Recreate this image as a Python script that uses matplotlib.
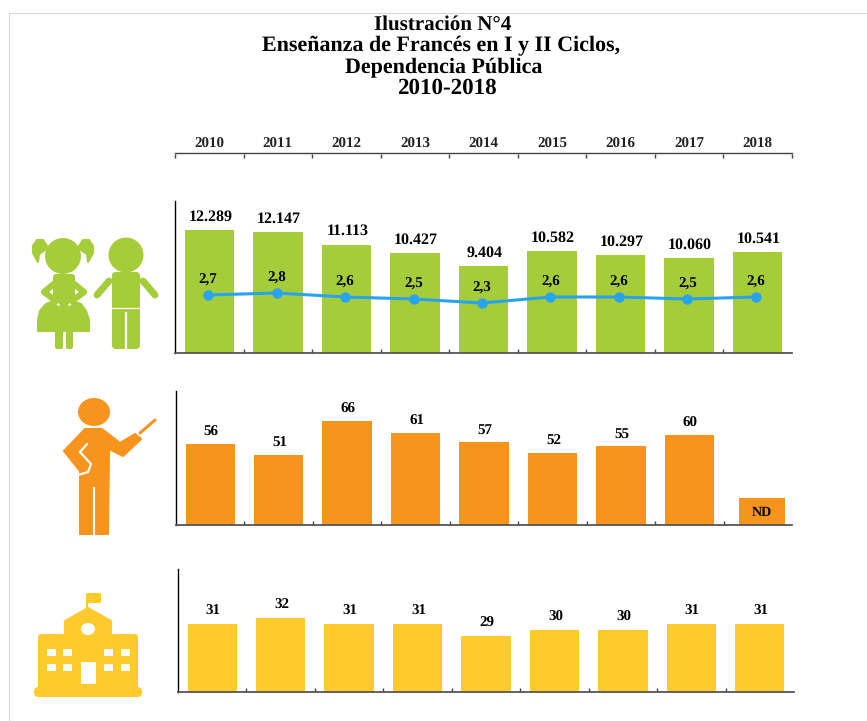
import matplotlib
matplotlib.use("Agg")
import matplotlib.pyplot as plt
from matplotlib.patches import Circle, Ellipse, Polygon, FancyBboxPatch, Rectangle
import numpy as np

plt.rcParams["font.family"] = ["Liberation Serif", "DejaVu Serif"]
plt.rcParams["font.weight"] = "bold"
plt.rcParams["text.hinting"] = "no_hinting"
plt.rcParams["text.hinting_factor"] = 1

years = ["2010", "2011", "2012", "2013", "2014", "2015", "2016", "2017", "2018"]
students = [12289, 12147, 11113, 10427, 9404, 10582, 10297, 10060, 10541]
student_labels = ["12.289", "12.147", "11.113", "10.427", "9.404", "10.582", "10.297", "10.060", "10.541"]
percent = [2.7, 2.8, 2.6, 2.5, 2.3, 2.6, 2.6, 2.5, 2.6]
percent_labels = ["2,7", "2,8", "2,6", "2,5", "2,3", "2,6", "2,6", "2,5", "2,6"]
teachers = [56, 51, 66, 61, 57, 52, 55, 60]
teacher_labels = ["56", "51", "66", "61", "57", "52", "55", "60"]
nd_placeholder = 32
schools = [31, 32, 31, 31, 29, 30, 30, 31, 31]

GREEN = "#a5cd39"
ORANGE = "#f7941e"
YELLOW = "#ffca2e"
BLUE = "#29a3f0"

W, H = 867, 721
fig = plt.figure(figsize=(W / 100, H / 100), dpi=100)


def px_axes(left, top, right, bottom):
    return fig.add_axes([left / W, 1 - bottom / H, (right - left) / W, (bottom - top) / H])


def bar_panel(box, values, labels, color, ylim, label_gap=5, label_size=11):
    ax = px_axes(*box)
    x = np.arange(len(values))
    ax.bar(x, values, width=0.72, color=color, zorder=2)
    ax.set_xlim(-0.5, 8.5)
    ax.set_ylim(*ylim)
    for xi, v, lab in zip(x, values, labels):
        ax.annotate(lab, (xi, v), xytext=(1, label_gap), textcoords="offset pixels",
                    ha="center", va="bottom", fontsize=label_size, fontweight="bold")
    ax.set_xticks(np.arange(8) + 0.5)
    ax.set_xticklabels([])
    ax.tick_params(axis="x", direction="in", length=3, width=1, color="#444444")
    ax.set_yticks([])
    ax.spines["top"].set_visible(False)
    ax.spines["right"].set_visible(False)
    ax.spines["left"].set_linewidth(1.0)
    ax.spines["bottom"].set_linewidth(1.3)
    ax.spines["bottom"].set_color("#555555")
    ax.patch.set_alpha(0)
    return ax


ax1 = bar_panel((175, 201, 792, 353), students, student_labels, GREEN, (2430, 14610),
                label_gap=6, label_size=11.5)
line_ax = px_axes(174, 201, 790, 353)
line_ax.set_xlim(-0.5, 8.5)
line_ax.set_ylim(-0.2, 7.4)
line_ax.axis("off")
line_ax.plot(range(9), percent, color=BLUE, lw=2.2, marker="o", ms=6.5, zorder=3)
for i, (p, lab) in enumerate(zip(percent, percent_labels)):
    line_ax.annotate(lab, (i, p), xytext=(0, 8), textcoords="offset pixels",
                     ha="center", va="bottom", fontsize=11, fontweight="bold")

ax2 = bar_panel((176, 391, 792, 525), teachers, teacher_labels, ORANGE, (20.3, 79.3))
# 2018 has no data: a short placeholder bar with ND inside it
ax2.bar(8.06, nd_placeholder, width=0.67, color=ORANGE, zorder=2)
ax2.text(8.06, (nd_placeholder + 20.3) / 2 - 0.6, "ND", ha="center", va="center",
         fontsize=10, fontweight="bold")

ax3 = bar_panel((178, 569, 794, 692), schools, [str(s) for s in schools], YELLOW, (19.67, 40.2), label_gap=6)

# year header
top = px_axes(175, 153, 792, 154)
top.set_xlim(-0.5, 8.5)
top.set_ylim(0, 1)
top.patch.set_alpha(0)
for s in ["left", "right", "bottom"]:
    top.spines[s].set_visible(False)
top.spines["top"].set_linewidth(1.0)
top.spines["top"].set_color("#444444")
top.set_yticks([])
top.set_xticks(np.arange(10) - 0.5)
top.set_xticklabels([])
top.tick_params(axis="x", direction="out", length=3, width=1, color="#444444", bottom=True)
for i, y in enumerate(years):
    top.annotate(y, (i, 1), xycoords=top.get_xaxis_transform(), xytext=(0, 2),
                 textcoords="offset pixels", ha="center", va="bottom",
                 fontsize=11, fontweight="bold", color="#222222")

title_size = 15.5
fig.text(443 / W, 1 - 25 / H, "Ilustración N°4", ha="center", va="center", fontsize=15, fontweight="bold")
fig.text(441.5 / W, 1 - 46 / H, "Enseñanza de Francés en I y II Ciclos,", ha="center", va="center", fontsize=title_size, fontweight="bold")
fig.text(443.5 / W, 1 - 67 / H, "Dependencia Pública", ha="center", va="center", fontsize=title_size, fontweight="bold")
fig.text(446.5 / W, 1 - 88 / H, "2010-2018", ha="center", va="center", fontsize=16.5, fontweight="bold")

# icons and the screenshot frame, in pixel coordinates
ov = fig.add_axes([0, 0, 1, 1], zorder=-1)
ov.set_xlim(0, W)
ov.set_ylim(H, 0)
ov.axis("off")
ov.plot([8.5, 8.5], [12.5, H], color="#d8d8d8", lw=0.9)
ov.plot([8.5, W], [12.5, 12.5], color="#d8d8d8", lw=0.9)


def round_box(x0, y0, x1, y1, r, c):
    ov.add_patch(FancyBboxPatch((x0 + r, y0 + r), x1 - x0 - 2 * r, y1 - y0 - 2 * r,
                                boxstyle=f"round,pad={r}", fc=c, ec="none"))


def limb(pts, lw, c):
    xs, ys = zip(*pts)
    ov.plot(xs, ys, color=c, lw=lw, solid_capstyle="round", solid_joinstyle="round")


def shape(pts, c):
    ov.add_patch(Polygon(pts, fc=c, ec=c, lw=1.5, joinstyle="round"))


# girl
ov.add_patch(Circle((63, 256), 18, fc=GREEN, ec="none"))
shape([(47, 246), (43, 240), (37, 240), (33, 246), (33, 253), (38, 262), (39, 254), (45, 250)], GREEN)
shape([(79, 246), (83, 240), (89, 240), (93, 246), (93, 253), (88, 262), (87, 254), (81, 250)], GREEN)
shape([(38, 331), (38, 320), (40, 311), (46, 304), (54, 301), (72, 301), (81, 304), (86, 311), (89, 320), (89, 331)], GREEN)
limb([(48, 296), (59, 305)], 1.5, "white")
limb([(80, 296), (69, 305)], 1.5, "white")
round_box(53, 274, 75, 304, 3, GREEN)
limb([(55, 283), (44, 292), (56, 301)], 4.5, GREEN)
limb([(73, 283), (84, 292), (72, 301)], 4.5, GREEN)
round_box(55, 331, 63, 349, 2, GREEN)
round_box(66, 331, 73, 349, 2, GREEN)
# boy
ov.add_patch(Circle((126, 255), 17.5, fc=GREEN, ec="none"))
round_box(112, 272, 140, 349, 4, GREEN)
ov.plot([112, 140], [307.5, 307.5], color="white", lw=0.9)
ov.plot([126, 126], [313, 349], color="white", lw=1.6)
limb([(109, 281), (97, 295)], 5, GREEN)
limb([(143, 281), (155, 295)], 5, GREEN)

# teacher
ov.add_patch(Ellipse((94, 412), 32, 28, fc=ORANGE, ec="none"))
shape([(85, 429), (102, 429), (120, 443), (135, 434), (141, 439), (123, 456), (109, 449), (108, 534), (80, 534), (80, 471), (64, 451)], ORANGE)
limb([(87, 444), (80, 452), (91, 464), (88, 472), (78, 475)], 1.6, "white")
ov.plot([94, 94], [488, 536], color="white", lw=1.5)
limb([(140, 433), (155, 420)], 2.2, ORANGE)

# school
ov.add_patch(Rectangle((86, 594), 2, 14, fc=YELLOW, ec="none"))
round_box(86, 593, 101, 603, 1.5, YELLOW)
shape([(65, 621), (88, 608), (111, 621), (111, 640), (65, 640)], YELLOW)
round_box(38, 634, 138, 692, 3, YELLOW)
round_box(34, 687, 142, 697, 4.5, YELLOW)
ov.add_patch(Ellipse((88, 629), 14, 12, fc="white", ec="none"))
for wx in (47, 63, 104, 121):
    for wy in (649, 664):
        ov.add_patch(Rectangle((wx, wy), 9, 7, fc="white", ec="none"))
ov.add_patch(Rectangle((81, 662), 15, 22, fc="white", ec="none"))

fig.savefig("out.png", dpi=100)
